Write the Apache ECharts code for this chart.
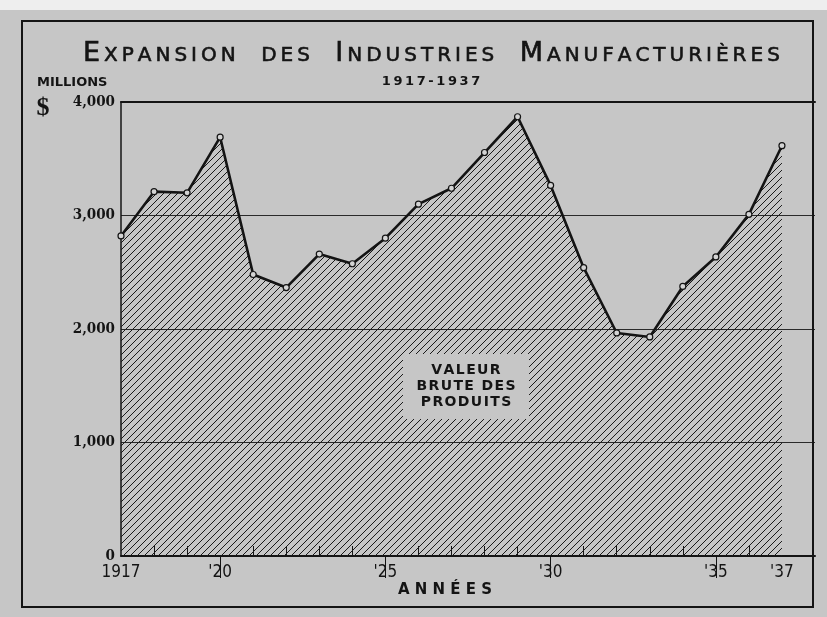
<!DOCTYPE html>
<html>
<head>
<meta charset="utf-8">
<script src="https://cdn.jsdelivr.net/npm/echarts@6/dist/echarts.min.js"></script>
<style>
  html, body { margin: 0; padding: 0; background: #c6c6c6; }
  #chart { width: 827px; height: 617px; }
</style>
</head>
<body>
<div id="chart"></div>
<script>
// gross value of manufactured products, millions $
const years = [1917, 1918, 1919, 1920, 1921, 1922, 1923, 1924, 1925, 1926, 1927,
               1928, 1929, 1930, 1931, 1932, 1933, 1934, 1935, 1936, 1937];
const values = [2820, 3210, 3200, 3690, 2480, 2365, 2660, 2575, 2800, 3100, 3240,
                3555, 3870, 3265, 2540, 1965, 1930, 2375, 2635, 3010, 3615];
const labelYears = [1917, 1920, 1925, 1930, 1935, 1937];
const labelTexts = ['1917', "'20", "'25", "'30", "'35", "'37"];
const minorTickYears = [1918, 1919, 1921, 1922, 1923, 1924, 1926, 1927, 1928, 1929,
                        1931, 1932, 1933, 1934, 1936];
const majorTickYears = [1920, 1925, 1930, 1935];
const yTicks = [0, 1000, 2000, 3000, 4000];

const BG = '#c6c6c6';
const INK = '#141414';
const THIN = '\u2009';
const HAIR = '\u200A';

// spread letters out a little (no letter-spacing in canvas text)
function spread(s, sep) {
  return s.split('').join(sep);
}

// diagonal hatch tile
function hatch() {
  const c = document.createElement('canvas');
  const s = 7;
  c.width = s; c.height = s;
  const g = c.getContext('2d');
  g.strokeStyle = '#1a1a1a';
  g.lineWidth = 1;
  g.beginPath();
  g.moveTo(-1, s + 1); g.lineTo(s + 1, -1);
  g.moveTo(-1, 1); g.lineTo(1, -1);
  g.moveTo(s - 1, s + 1); g.lineTo(s + 1, s - 1);
  g.stroke();
  return c;
}

const chart = echarts.init(document.getElementById('chart'));

const labelMap = {};
labelYears.forEach((y, i) => { labelMap[y] = labelTexts[i]; });

const GAP = '    ';
const titleText =
  '{b|E}{s|' + THIN + spread('XPANSION', THIN) + GAP + spread('DES', THIN) + GAP + '}' +
  '{b|I}{s|' + THIN + spread('NDUSTRIES', THIN) + GAP + '}' +
  '{b|M}{s|' + THIN + spread('ANUFACTURIÈRES', THIN) + '}';

const option = {
  backgroundColor: BG,
  animation: false,
  title: {
    text: titleText,
    left: 78,
    top: 32,
    textStyle: {
      fontWeight: 'normal',
      rich: {
        b: { fontFamily: "'DejaVu Sans'", fontWeight: 'normal', fontSize: 27, color: INK,
             textBorderColor: INK, textBorderWidth: 0.6,
             verticalAlign: 'bottom', lineHeight: 30 },
        s: { fontFamily: "'DejaVu Sans'", fontWeight: 'normal', fontSize: 20, color: INK,
             textBorderColor: INK, textBorderWidth: 0.6,
             verticalAlign: 'bottom', lineHeight: 30, padding: [0, 0, 1, 0] }
      }
    }
  },
  grid: { left: 121, right: 12, top: 102, bottom: 61 },
  xAxis: [
    {
      type: 'value', min: 1917, max: 1938,
      axisLine: { show: true, onZero: false, lineStyle: { color: INK, width: 2 } },
      axisTick: { show: true, inside: true, length: 10, customValues: minorTickYears,
                  lineStyle: { color: INK, width: 1 } },
      axisLabel: {
        customValues: labelYears,
        formatter: v => labelMap[v] || '',
        color: INK, fontSize: 17, margin: 8,
        fontFamily: "'Liberation Sans Narrow', 'DejaVu Sans Condensed', sans-serif"
      },
      splitLine: { show: false }
    },
    {
      type: 'value', min: 1917, max: 1938,
      axisLine: { show: false },
      axisTick: { show: true, inside: true, length: 22, customValues: majorTickYears,
                  lineStyle: { color: INK, width: 1 } },
      axisLabel: { show: false },
      splitLine: { show: false }
    },
    {
      type: 'value', min: 1917, max: 1938, position: 'top',
      axisLine: { show: true, lineStyle: { color: INK, width: 2 } },
      axisTick: { show: false },
      axisLabel: { show: false },
      splitLine: { show: false }
    }
  ],
  yAxis: {
    type: 'value', min: 0, max: 4000, interval: 1000,
    axisLine: { show: true, lineStyle: { color: INK, width: 1.5 } },
    axisTick: { show: false },
    axisLabel: {
      color: INK, fontSize: 15, fontWeight: 'bold', margin: 6,
      fontFamily: "'DejaVu Serif Condensed', 'Liberation Serif', serif",
      formatter: v => yTicks.includes(v) ? (v === 0 ? '0' : v.toLocaleString('en-US')) : ''
    },
    splitLine: { show: true, lineStyle: { color: '#2a2a2a', width: 1 } }
  },
  series: [
    {
      type: 'line',
      data: years.map((y, i) => [y, values[i]]),
      symbol: 'circle',
      symbolSize: 6,
      lineStyle: { color: INK, width: 2.6 },
      itemStyle: { color: '#d4d4d4', borderColor: INK, borderWidth: 1.2 },
      areaStyle: { color: { image: hatch(), repeat: 'repeat' }, opacity: 1 },
      z: 3
    }
  ],
  graphic: [
    { type: 'rect', shape: { x: 0, y: 0, width: 827, height: 10 }, style: { fill: '#eeeeee' }, z: -1 },
    { type: 'rect', shape: { x: 22, y: 21, width: 791, height: 586 },
      style: { fill: null, stroke: INK, lineWidth: 2 }, z: 1 },
    { type: 'text', x: 431, y: 82, style: { text: spread('1917-1937', THIN), fill: INK,
      font: "bold 13px 'DejaVu Sans', sans-serif", align: 'center', verticalAlign: 'middle' } },
    { type: 'text', x: 37, y: 83, style: { text: 'MILLIONS', fill: INK, font: "bold 13px 'DejaVu Sans', sans-serif",
      align: 'left', verticalAlign: 'middle' } },
    { type: 'text', x: 43, y: 108, style: { text: '$', fill: INK, font: "bold 26px 'Liberation Serif', serif",
      align: 'center', verticalAlign: 'middle' } },
    { type: 'text', x: 445, y: 590, style: { text: 'A N N É E S', fill: INK, font: "bold 15px 'DejaVu Sans', sans-serif",
      align: 'center', verticalAlign: 'middle' } },
    { type: 'rect', shape: { x: 403, y: 354, width: 126, height: 65 }, style: { fill: BG }, z: 10 },
    { type: 'text', x: 466, y: 386, z: 11,
      style: { text: [spread('VALEUR', HAIR), spread('BRUTE DES', HAIR), spread('PRODUITS', HAIR)].join('\n'),
        fill: INK, font: "bold 14px 'DejaVu Sans', sans-serif",
        lineHeight: 16, align: 'center', verticalAlign: 'middle' } }
  ]
};

chart.setOption(option);
</script>
</body>
</html>
